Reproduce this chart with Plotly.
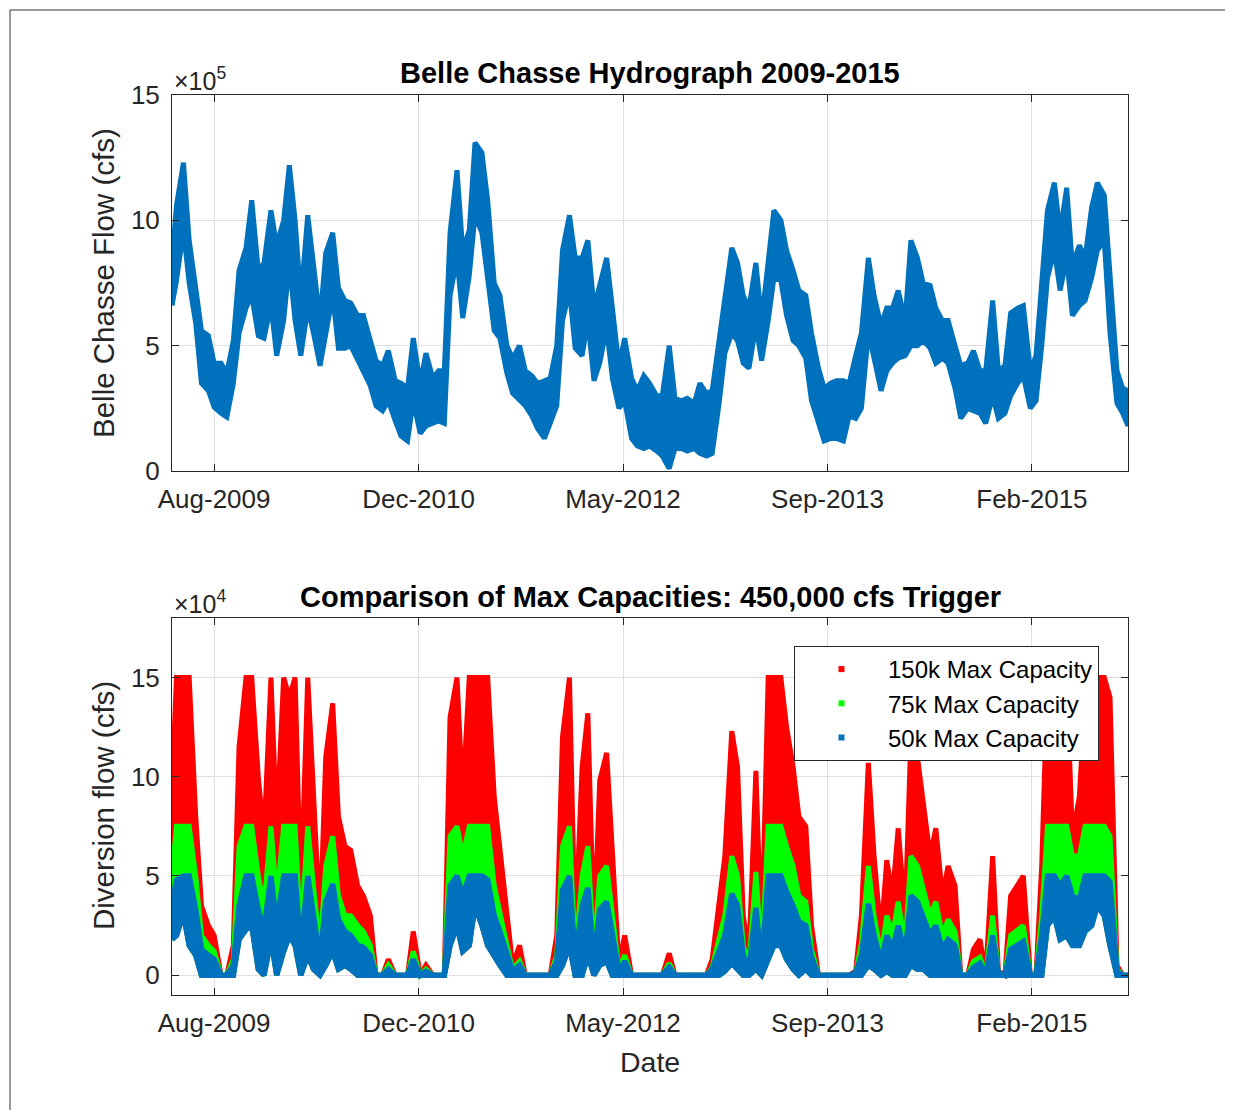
import pandas as pd
import plotly.graph_objects as go

# ---------------- data ----------------
# semi-monthly sample dates (1st and 15th), first/last trimmed to the data span
DATES = list(pd.date_range("2009-05-01", "2015-09-15", freq="SMS").strftime("%Y-%m-%d"))
DATES[0] = "2009-05-04"
DATES.append("2015-09-28")

# Belle Chasse flow band (upper / lower envelope), units of 1e5 cfs
FLOW_UPPER = [8.4, 10.6, 12.3, 9.2, 7.3, 5.6, 5.4, 4.3, 4.3, 3.9,
              5.2, 8.0, 8.9, 10.8, 8.0, 8.3, 10.4, 9.0, 10.0, 12.2,
              10.0, 6.9, 10.2, 8.2, 6.0, 8.7, 9.5, 7.3, 6.8, 6.7,
              6.2, 6.2, 5.2, 4.4, 4.2, 4.8, 3.6, 3.5, 3.3, 5.3,
              3.5, 4.7, 3.7, 4.0, 4.0, 9.5, 12.0, 8.8, 9.6, 13.1,
              12.7, 10.8, 7.5, 7.0, 5.0, 4.5, 5.0, 4.0, 3.8, 3.5,
              3.6, 3.7, 5.0, 8.8, 10.2, 8.5, 8.5, 9.2, 6.5, 7.5,
              8.5, 6.5, 4.2, 5.3, 3.7, 3.2, 3.8, 3.5, 3.0, 3.0,
              5.0, 2.9, 2.8, 2.9, 2.7, 3.5, 3.1, 3.2, 5.2, 7.0,
              8.9, 8.3, 7.0, 6.5, 8.3, 6.0, 8.5, 10.4, 10.0, 8.8,
              8.0, 7.2, 7.0, 5.5, 4.1, 3.3, 3.5, 3.6, 3.6, 3.5,
              4.6, 5.5, 8.5, 7.0, 5.8, 6.5, 6.5, 7.2, 6.0, 9.2,
              8.5, 7.5, 7.4, 6.5, 6.0, 6.0, 5.0, 4.2, 4.3, 4.8,
              4.0, 4.0, 6.8, 4.0, 4.2, 6.3, 6.5, 6.6, 4.0, 4.6,
              7.5, 10.4, 11.5, 9.5, 11.3, 8.2, 9.0, 8.5, 10.5, 11.5,
              11.0, 7.8, 4.0, 3.3, 3.2]
FLOW_LOWER = [6.6, 7.6, 9.6, 7.5, 5.9, 3.5, 3.2, 2.55, 2.3, 2.15,
              3.5, 5.5, 6.5, 7.0, 5.4, 5.3, 6.6, 4.6, 6.0, 8.3,
              6.0, 4.6, 6.5, 5.5, 4.2, 5.5, 7.0, 4.9, 4.9, 5.0,
              4.4, 4.0, 3.4, 2.6, 2.4, 2.8, 2.0, 1.4, 1.2, 2.8,
              1.5, 1.8, 1.9, 2.0, 1.9, 7.0, 8.5, 6.1, 7.8, 10.2,
              9.5, 7.5, 5.6, 5.3, 3.9, 3.1, 2.8, 2.6, 2.2, 1.7,
              1.3, 1.9, 2.6, 6.0, 7.2, 4.9, 4.6, 6.0, 3.6, 4.3,
              5.7, 3.7, 2.5, 2.8, 1.3, 1.0, 0.9, 1.0, 0.8, 0.6,
              0.1, 0.9, 0.9, 0.8, 0.9, 0.7, 0.6, 0.7, 2.7, 4.7,
              5.5, 5.2, 4.3, 4.1, 5.8, 4.4, 6.0, 7.7, 7.6, 6.2,
              5.2, 5.0, 4.5, 2.8, 2.0, 1.2, 1.3, 1.3, 1.2, 2.2,
              2.1, 2.5, 5.5, 4.5, 3.2, 4.0, 4.3, 4.5, 4.6, 5.0,
              5.0, 5.2, 4.9, 4.3, 4.5, 4.3, 3.3, 2.1, 2.5, 2.4,
              2.3, 1.9, 3.0, 2.1, 2.3, 3.0, 3.5, 3.8, 2.5, 2.8,
              5.0, 7.7, 8.8, 7.2, 8.5, 6.2, 6.6, 6.8, 7.7, 8.8,
              9.2, 5.5, 2.7, 2.3, 1.8]

# Diversion flow, units of 1e4 cfs (upper envelopes and common lower envelope)
RED_150K = [9.5, 15, 15, 15, 8.0, 3.5, 2.5, 2.0, 0, 0,
            1.5, 11.5, 15, 15, 10, 7.0, 15, 7.5, 15, 14,
            15, 4.0, 15, 9.0, 2.5, 11, 13.7, 8.0, 6.5, 6.3,
            4.5, 4.0, 3.0, 0, 0, 0.8, 0, 0, 0, 2.2,
            0, 0.5, 0, 0, 0, 13, 15, 9.0, 15, 15,
            15, 15, 9.0, 6.5, 3.0, 0.5, 1.5, 0, 0, 0,
            0, 0, 2.0, 12, 15, 2.0, 10.5, 13.2, 2.0, 9.8,
            11.2, 6.0, 0.5, 2.0, 0, 0, 0, 0, 0, 0,
            1.1, 0, 0, 0, 0, 0, 0, 0.8, 3.5, 6.0,
            12.3, 10.5, 3.0, 1.0, 10.3, 1.5, 15, 15, 15, 12.5,
            10.5, 8.0, 7.5, 2.5, 0, 0, 0, 0, 0, 0,
            0.2, 3.0, 10.7, 6.0, 2.0, 5.8, 4.0, 7.4, 3.0, 12.0,
            11.0, 8.6, 6.0, 7.4, 4.0, 5.5, 4.5, 0, 0, 1.3,
            1.8, 0, 6.0, 0.2, 0, 4.0, 4.5, 5.0, 0, 0,
            5.5, 15, 15, 8.5, 15, 7.0, 9.0, 14, 15, 15,
            15, 14, 0.5, 0, 0]
GREEN_75K = [5.1, 7.5, 7.5, 7.5, 5.0, 2.0, 1.5, 1.2, 0, 0,
             0.8, 6.5, 7.5, 7.5, 5.0, 3.5, 7.5, 3.8, 7.5, 7.5,
             7.5, 2.0, 7.5, 4.5, 1.3, 5.5, 7.0, 4.0, 3.0, 3.0,
             2.5, 2.2, 1.5, 0, 0, 0.5, 0, 0, 0, 1.2,
             0, 0.3, 0, 0, 0, 7.0, 7.5, 6.0, 7.5, 7.5,
             7.5, 7.5, 4.5, 3.0, 1.5, 0.3, 0.7, 0, 0, 0,
             0, 0, 1.0, 6.5, 7.5, 1.0, 5.0, 6.5, 1.0, 5.0,
             5.5, 3.0, 0.3, 1.0, 0, 0, 0, 0, 0, 0,
             0.6, 0, 0, 0, 0, 0, 0, 0.4, 1.8, 3.0,
             6.0, 5.0, 1.5, 0.5, 5.2, 0.8, 7.5, 7.5, 7.5, 6.5,
             5.5, 4.0, 3.7, 1.3, 0, 0, 0, 0, 0, 0,
             0.1, 1.6, 5.5, 3.0, 1.0, 3.0, 2.0, 3.7, 1.5, 6.0,
             5.5, 4.3, 3.0, 3.7, 2.0, 2.8, 2.2, 0, 0, 0.7,
             0.9, 0, 3.0, 0.1, 0, 2.0, 2.3, 2.5, 0, 0,
             3.0, 7.5, 7.5, 7.5, 7.5, 6.0, 6.0, 7.5, 7.5, 7.5,
             7.5, 7.0, 0.3, 0, 0]
BLUE_50K = [3.6, 4.8, 5.0, 5.0, 3.3, 1.3, 1.0, 0.8, 0, 0,
            0.5, 3.5, 5.0, 5.0, 3.3, 2.3, 5.0, 2.5, 5.0, 5.0,
            5.0, 1.3, 5.0, 3.0, 0.8, 3.7, 4.6, 2.8, 2.2, 2.0,
            1.5, 1.4, 1.0, 0, 0, 0.3, 0, 0, 0, 0.8,
            0, 0.2, 0, 0, 0, 4.5, 5.0, 4.0, 5.0, 5.0,
            5.0, 4.8, 3.0, 2.2, 1.0, 0.2, 0.5, 0, 0, 0,
            0, 0, 0.7, 4.3, 5.0, 0.7, 3.5, 4.4, 0.7, 3.3,
            3.7, 2.0, 0.2, 0.7, 0, 0, 0, 0, 0, 0,
            0.4, 0, 0, 0, 0, 0, 0, 0.3, 1.2, 2.0,
            4.1, 3.5, 1.0, 0.3, 3.4, 0.5, 5.0, 5.0, 5.0, 4.2,
            3.5, 2.7, 2.5, 0.9, 0, 0, 0, 0, 0, 0,
            0.1, 1.0, 3.6, 2.0, 0.7, 2.0, 1.3, 2.5, 1.0, 4.0,
            3.7, 2.9, 2.0, 2.5, 1.3, 1.8, 1.5, 0, 0, 0.4,
            0.6, 0, 2.0, 0.1, 0, 1.3, 1.5, 1.7, 0, 0,
            2.0, 5.0, 5.0, 4.5, 5.0, 4.0, 3.8, 5.0, 5.0, 5.0,
            5.0, 4.7, 0.2, 0, 0]
DIV_LOWER = [1.8, 2.0, 3.1, 1.5, 1.0, 0, 0, 0, 0, 0,
             0, 1.8, 2.3, 2.5, 0.3, 0, 1.8, 0, 1.2, 2.0,
             1.5, 0, 1.0, 0.3, 0, 0.5, 1.2, 0.3, 0.5, 0.3,
             0, 0, 0, 0, 0, 0, 0, 0, 0, 0,
             0, 0, 0, 0, 0, 1.5, 2.5, 1.2, 1.5, 3.5,
             2.5, 1.5, 1.0, 0.5, 0, 0, 0, 0, 0, 0,
             0, 0, 0, 0.5, 1.5, 0, 0, 1.0, 0, 0.5,
             0.7, 0, 0, 0, 0, 0, 0, 0, 0, 0,
             0, 0, 0, 0, 0, 0, 0, 0, 0, 0.2,
             0.6, 0.3, 0, 0, 0.3, 0, 0.8, 1.5, 1.5, 0.8,
             0.3, 0, 0.3, 0, 0, 0, 0, 0, 0, 0,
             0, 0, 0.5, 0.3, 0, 0.2, 0, 0, 0, 0.5,
             0.3, 0.3, 0, 0, 0, 0, 0, 0, 0, 0,
             0, 0, 0, 0, 0, 0, 0, 0, 0, 0,
             0, 2.5, 3.0, 1.8, 2.0, 1.5, 1.5, 2.2, 2.5, 3.5,
             3.0, 1.5, 0, 0, 0]

X_TICKS = ["2009-08-15", "2010-12-28", "2012-05-11", "2013-09-23", "2015-02-05"]
X_TICK_TEXT = ["Aug-2009", "Dec-2010", "May-2012", "Sep-2013", "Feb-2015"]
TOP_TICKS = [0, 5, 10, 15]      # x 1e5
BOT_TICKS = [0, 5, 10, 15]      # x 1e4
SERIES_NAMES = ["150k Max Capacity", "75k Max Capacity", "50k Max Capacity"]

for arr in (FLOW_UPPER, FLOW_LOWER, RED_150K, GREEN_75K, BLUE_50K, DIV_LOWER):
    assert len(arr) == len(DATES), len(arr)

# ---------------- styling ----------------
FONT = "Liberation Sans, Arial, Helvetica, sans-serif"
AX = "#262626"
GRID = "#dfdfdf"
BLUE = "#0072BD"
RED = "#FF0000"
GREEN = "#00FF00"

OFF = 8                      # page offset of the figure inside the browser window
W, H = 1225, 1102
ML, MR, MT, MB = 164, 105, 87, 115
PW, PH = W - ML - MR, H - MT - MB


def px(x):                   # page pixel -> paper x
    return (x - OFF - ML) / PW


def py(y):                   # page pixel -> paper y
    return (H - MB - (y - OFF)) / PH


def band(upper, lower, scale, color, xa, ya, width):
    xs = DATES + DATES[::-1]
    ys = [u * scale for u in upper] + [l * scale for l in lower][::-1]
    return go.Scatter(x=xs, y=ys, fill="toself", fillcolor=color, mode="lines",
                      line=dict(color=color, width=width), xaxis=xa, yaxis=ya,
                      showlegend=False, hoverinfo="skip")


fig = go.Figure()
fig.add_trace(band(FLOW_UPPER, FLOW_LOWER, 1e5, BLUE, "x", "y", 5))
fig.add_trace(band(RED_150K, DIV_LOWER, 1e4, RED, "x2", "y2", 5))
fig.add_trace(band(GREEN_75K, DIV_LOWER, 1e4, GREEN, "x2", "y2", 5))
fig.add_trace(band(BLUE_50K, DIV_LOWER, 1e4, BLUE, "x2", "y2", 5.5))
for name, col in zip(SERIES_NAMES, [RED, GREEN, BLUE]):
    fig.add_trace(go.Scatter(x=[None], y=[None], mode="markers", name=name,
                             marker=dict(symbol="square", size=6, color=col),
                             xaxis="x2", yaxis="y2"))

xrange = ["2009-05-04", "2015-09-28"]
common_x = dict(type="date", range=xrange, tickvals=X_TICKS, ticktext=X_TICK_TEXT,
                showline=True, linecolor=AX, linewidth=1, mirror="ticks",
                ticks="inside", ticklen=7, tickcolor=AX, tickwidth=1,
                showgrid=True, gridcolor=GRID, gridwidth=1, zeroline=False,
                tickfont=dict(family=FONT, size=26, color=AX), ticklabelstandoff=5)
common_y = dict(showline=True, linecolor=AX, linewidth=1, mirror="ticks",
                ticks="inside", ticklen=7, tickcolor=AX, tickwidth=1,
                showgrid=True, gridcolor=GRID, gridwidth=1, zeroline=False,
                tickfont=dict(family=FONT, size=26, color=AX), ticklabelstandoff=6)

fig.update_layout(
    width=W, height=H,
    margin=dict(l=ML, r=MR, t=MT, b=MB),
    paper_bgcolor="white", plot_bgcolor="white",
    font=dict(family=FONT, color=AX),
    xaxis=dict(domain=[0, 1], anchor="y", **common_x),
    yaxis=dict(domain=[py(471), 1], anchor="x", range=[0, 1.5e6],
               tickvals=[t * 1e5 for t in TOP_TICKS], ticktext=[str(t) for t in TOP_TICKS],
               **common_y),
    xaxis2=dict(domain=[0, 1], anchor="y2", **common_x),
    yaxis2=dict(domain=[0, py(618)], anchor="x2", range=[-1e4, 1.8e5],
                tickvals=[t * 1e4 for t in BOT_TICKS], ticktext=[str(t) for t in BOT_TICKS],
                **common_y),
    legend=dict(x=px(794), y=py(646), xanchor="left", yanchor="top",
                bgcolor="white", bordercolor=AX, borderwidth=1,
                font=dict(family=FONT, size=24, color="black"), itemwidth=83),
    showlegend=True,
)

ann = [
    dict(text="<b>Belle Chasse Hydrograph 2009-2015</b>", x=0.5, y=py(73),
         font=dict(size=29, color="black")),
    dict(text="<b>Comparison of Max Capacities: 450,000 cfs Trigger</b>", x=0.5, y=py(597),
         font=dict(size=29, color="black")),
    dict(text="\u00d710<sup>5</sup>", x=px(172), y=py(79), xanchor="left",
         font=dict(size=25, color=AX)),
    dict(text="\u00d710<sup>4</sup>", x=px(172), y=py(602), xanchor="left",
         font=dict(size=25, color=AX)),
    dict(text="Belle Chasse Flow (cfs)", x=px(103), y=py(283), textangle=-90,
         font=dict(size=29.5, color=AX)),
    dict(text="Diversion flow (cfs)", x=px(103), y=py(806), textangle=-90,
         font=dict(size=29.5, color=AX)),
    dict(text="Date", x=px(650), y=py(1062), font=dict(size=28.5, color=AX)),
]
for a in ann:
    a.setdefault("xanchor", "center")
    a.update(xref="paper", yref="paper", yanchor="middle", showarrow=False)
    a["font"]["family"] = FONT
fig.update_layout(annotations=ann)

fig.add_shape(type="rect", xref="paper", yref="paper",
              x0=px(10), x1=px(1260), y0=py(10), y1=py(1140),
              line=dict(color="#333333", width=1), layer="below")

fig.write_html("out.html")
